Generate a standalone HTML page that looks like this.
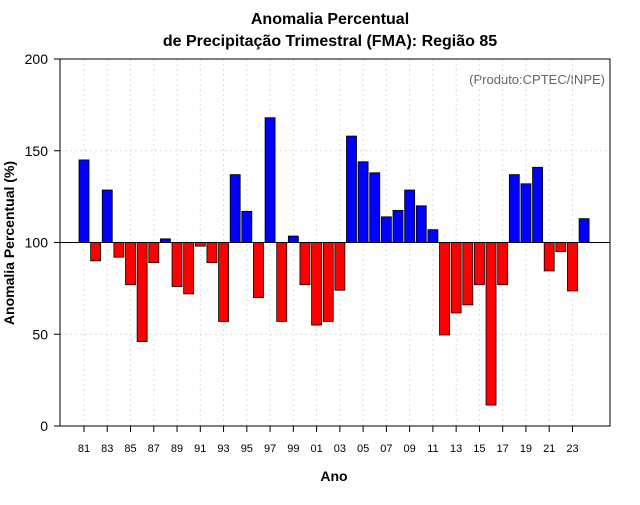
<!DOCTYPE html>
<html><head><meta charset="utf-8"><style>
body{margin:0;background:#fff;font-family:"Liberation Sans",sans-serif}
</style></head><body>
<svg id="c" width="640" height="500" xmlns="http://www.w3.org/2000/svg">
<rect width="640" height="500" fill="#fff"/>
<text x="330" y="24" text-anchor="middle" font-size="16" font-weight="bold">Anomalia Percentual</text>
<text x="330" y="46" text-anchor="middle" font-size="16" font-weight="bold">de Precipitação Trimestral (FMA): Região 85</text>
<text x="605" y="84" text-anchor="end" font-size="13" fill="#666">(Produto:CPTEC/INPE)</text>
<text x="334" y="481" text-anchor="middle" font-size="14" font-weight="bold">Ano</text>
<text transform="translate(14,243) rotate(-90)" text-anchor="middle" font-size="14" font-weight="bold">Anomalia Percentual (%)</text>
<g id="grid"></g><g id="bars"></g><g id="axes"></g>
<rect x="60" y="59" width="550" height="367" fill="none" stroke="#000"/>
</svg>
<script>
const years=[1981,1982,1983,1984,1985,1986,1987,1988,1989,1990,1991,1992,1993,1994,1995,1996,1997,1998,1999,2000,2001,2002,2003,2004,2005,2006,2007,2008,2009,2010,2011,2012,2013,2014,2015,2016,2017,2018,2019,2020,2021,2022,2023,2024];
const values=[145,90,128.6,92,77,46,89,102,76,72,98,89,57,137,117,70,168,57,103.5,77,55,57,74,158,144,138,114,117.5,128.6,120,107,49.6,61.6,66,77,11.4,77,137,132,141,84.5,95,73.6,113];
const yTicks=[0,50,100,150,200];
const NS="http://www.w3.org/2000/svg";
const x=i=>84+i*11.63;
const y=v=>426-v*1.835;
function mk(t,a,p){const e=document.createElementNS(NS,t);for(const k in a)e.setAttribute(k,a[k]);p.appendChild(e);return e;}
const g=document.getElementById('grid'),b=document.getElementById('bars'),ax=document.getElementById('axes');
yTicks.forEach(v=>{
 if(v>0&&v<200){const l=mk('line',{x1:60,x2:610,y1:y(v),y2:y(v),stroke:'#ddd','stroke-dasharray':'2,3'},g);
 
 }
 const t=mk('line',{x1:54,x2:60,y1:y(v),y2:y(v),stroke:'#000'},ax);
 
 
 const tx=mk('text',{x:48,y:y(v)+5,'text-anchor':'end','font-size':14},ax);tx.textContent=v;
 
 
});
years.forEach((yr,i)=>{
 if(i%2===0){
  const l=mk('line',{x1:x(i),x2:x(i),y1:59,y2:426,stroke:'#ddd','stroke-dasharray':'2,3'},g);
  
  
  const t=mk('line',{x1:x(i),x2:x(i),y1:426,y2:432,stroke:'#000'},ax);
  
  
  const tx=mk('text',{x:x(i),y:452,'text-anchor':'middle','font-size':11},ax);tx.textContent=String(yr%100).padStart(2,'0');
  
  
 }
 const v=values[i],top=Math.min(y(v),y(100)),h=Math.abs(y(v)-y(100));
 const r=mk('rect',{x:x(i)-5,y:top,width:10,height:h,fill:v>=100?'#0000ff':'#ff0000',stroke:'#000','stroke-width':0.8},b);
 
 
});
const bl=mk('line',{x1:60,x2:610,y1:y(100),y2:y(100),stroke:'#000'},b);


</script>
</body></html>
